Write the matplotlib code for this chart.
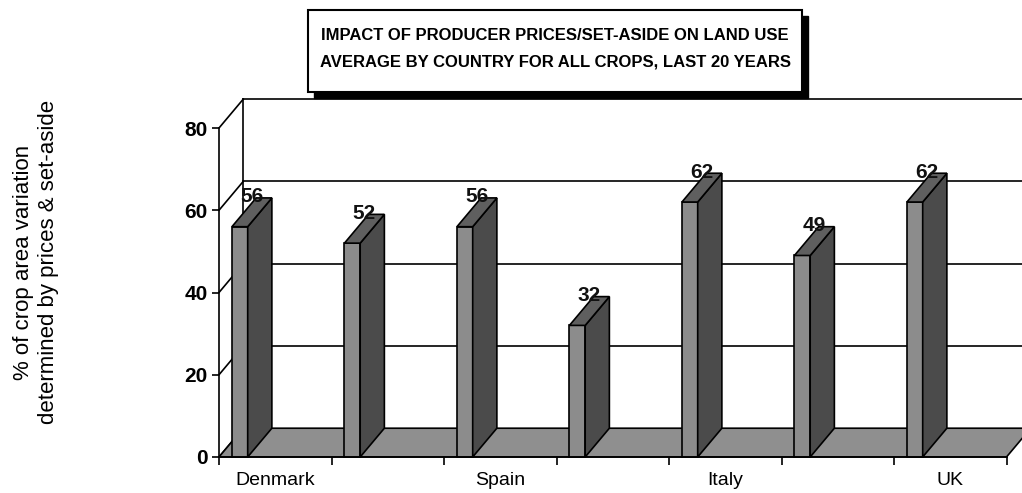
import matplotlib
matplotlib.use("Agg")
import matplotlib.pyplot as plt
from matplotlib.patches import Polygon, Rectangle
from matplotlib import font_manager

# Datos
countries = ["Denmark", "", "Spain", "", "Italy", "", "UK"]
impact = [56, 52, 56, 32, 62, 49, 62]
y_ticks = [0, 20, 40, 60, 80]

title_lines = ["IMPACT OF PRODUCER PRICES/SET-ASIDE ON LAND USE",
               "AVERAGE BY COUNTRY FOR ALL CROPS, LAST 20 YEARS"]
ylabel = "% of crop area variation\ndetermined by prices & set-aside"

# fuente estrecha si esta instalada
names = {f.name for f in font_manager.fontManager.ttflist}
has_narrow = "Liberation Sans Narrow" in names
narrow = "Liberation Sans Narrow" if has_narrow else "Liberation Sans"

plt.rcParams['font.family'] = ['Liberation Sans', 'DejaVu Sans']

W, H = 1022, 493
fig = plt.figure(figsize=(W / 100, H / 100), dpi=100)

# plano frontal de la caja 3D
ax = fig.add_axes([219 / W, 1 - 457 / H, 787.5 / W, 329 / H])
n = len(impact)
ax.set_xlim(0, n)
ax.set_ylim(0, 80)
ax.patch.set_visible(False)

# profundidad de la proyeccion oblicua (unidades de datos)
dx, dy = 0.215, 7.0
bar_off, bar_w = 0.115, 0.14
lw = 1.2

# pared del fondo y lateral
ax.plot([dx, dx], [dy, 80 + dy], color='black', lw=lw, clip_on=False, zorder=1)
for v in y_ticks[1:]:
    ax.plot([dx, n + dx], [v + dy, v + dy], color='black', lw=lw, clip_on=False, zorder=1)
for v in y_ticks:
    ax.plot([0, dx], [v, v + dy], color='black', lw=lw, clip_on=False, zorder=1)

# suelo
floor = Polygon([(0, 0), (n, 0), (n + dx, dy), (dx, dy)], closed=True,
                facecolor='#8f8f8f', edgecolor='black', lw=lw, clip_on=False, zorder=3)
ax.add_patch(floor)

# barras
num_size = 15.5 if has_narrow else 15
for i, v in enumerate(impact):
    xl = i + bar_off
    xr = xl + bar_w
    front = Rectangle((xl, 0), bar_w, v, facecolor='#8c8c8c', edgecolor='black',
                      lw=lw, clip_on=False, zorder=5)
    side = Polygon([(xr, 0), (xr + dx, dy), (xr + dx, v + dy), (xr, v)], closed=True,
                   facecolor='#4b4b4b', edgecolor='black', lw=lw, clip_on=False, zorder=5)
    top = Polygon([(xl, v), (xr, v), (xr + dx, v + dy), (xl + dx, v + dy)], closed=True,
                  facecolor='#5f5f5f', edgecolor='black', lw=lw, clip_on=False, zorder=5)
    ax.add_patch(front)
    ax.add_patch(side)
    ax.add_patch(top)
    ax.text(xl + (bar_w + dx) / 2, v + dy + 0.3, str(v), ha='center', va='center',
            fontsize=num_size, fontweight='bold', family=narrow,
            color='#111111', zorder=10)

# ejes
for s in ['top', 'right']:
    ax.spines[s].set_visible(False)
ax.spines['left'].set_linewidth(lw)
ax.spines['bottom'].set_linewidth(lw)
ax.spines['left'].set_zorder(6)
ax.spines['bottom'].set_zorder(6)

ax.set_yticks(y_ticks)
ax.set_yticklabels([str(t) for t in y_ticks], fontsize=num_size,
                   fontweight='bold', family=narrow)
ax.tick_params(axis='y', direction='out', length=5, width=lw, pad=3)

ax.set_xticks(range(n + 1))
ax.set_xticklabels([''] * (n + 1))
ax.set_xticks([i + 0.5 for i in range(n)], minor=True)
ax.set_xticklabels(countries, minor=True, fontsize=14)
ax.tick_params(axis='x', which='major', direction='out', length=6, width=lw)
ax.tick_params(axis='x', which='minor', length=0, pad=11)

# titulo en caja con sombra
bx, by, bw, bh = 308, 10, 494, 82
shadow = Rectangle(((bx + 6) / W, 1 - (by + bh + 6) / H), bw / W, bh / H,
                   transform=fig.transFigure, facecolor='black', edgecolor='black')
box = Rectangle((bx / W, 1 - (by + bh) / H), bw / W, bh / H,
                transform=fig.transFigure, facecolor='white', edgecolor='black', lw=1.5)
fig.add_artist(shadow)
fig.add_artist(box)
title_size = 14.5 if has_narrow else 12
fig.text(555 / W, 1 - 36 / H, title_lines[0], ha='center', va='center',
         fontsize=title_size, fontweight='bold', family=narrow)
fig.text(555 / W, 1 - 62 / H, title_lines[1], ha='center', va='center',
         fontsize=title_size, fontweight='bold', family=narrow)

# etiqueta del eje Y
fig.text(36 / W, 1 - 262 / H, ylabel, rotation=90, ha='center', va='center',
         fontsize=16, linespacing=1.2, multialignment='center')

fig.savefig('out.png', dpi=100)
